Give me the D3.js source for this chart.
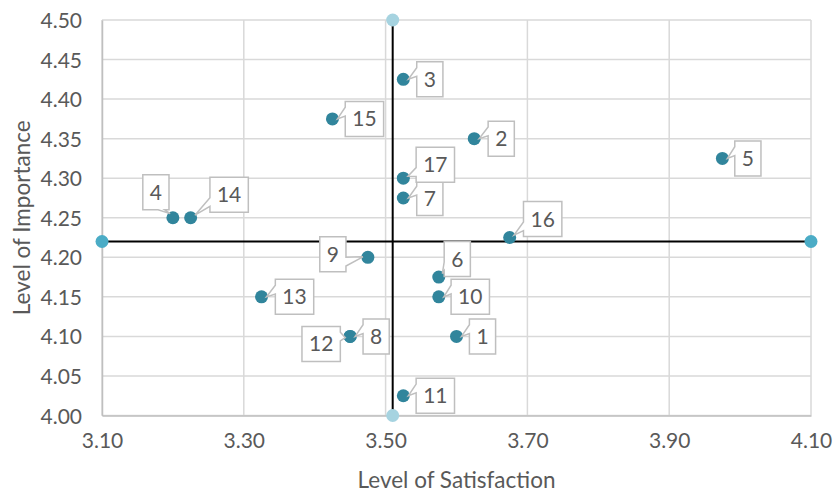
<!DOCTYPE html>
<html><head><meta charset="utf-8">
<script src="https://cdn.jsdelivr.net/npm/d3@7"></script>
<style>
html,body{margin:0;padding:0;background:#fff;}
svg text{font-family:Lato,"Open Sans",sans-serif;}
</style></head>
<body>
<svg id="chart" width="833" height="493"></svg>
<script>
// ---- data ----
const ids = ["1","2","3","4","5","6","7","8","9","10","11","12","13","14","15","16","17"];
const satisfaction = [3.60, 3.625, 3.525, 3.20, 3.975, 3.575, 3.525, 3.45, 3.475, 3.575, 3.525, 3.45, 3.325, 3.225, 3.425, 3.675, 3.525];
const importance   = [4.10, 4.35, 4.425, 4.25, 4.325, 4.175, 4.275, 4.10, 4.20, 4.15, 4.025, 4.10, 4.15, 4.25, 4.375, 4.225, 4.30];
const xTicks = [3.10, 3.30, 3.50, 3.70, 3.90, 4.10];
const yTicks = [4.00, 4.05, 4.10, 4.15, 4.20, 4.25, 4.30, 4.35, 4.40, 4.45, 4.50];
const refSatisfaction = 3.51;
const refImportance = 4.22;
const xTitle = "Level of Satisfaction";
const yTitle = "Level of Importance";

// ---- layout (label box centre offsets from point, px) ----
const labelOffsets = [[26,0],[27,0],[26.5,0],[-17,-25.5],[25.5,0],[18.5,-18],[26.5,0],[26,0],[-35,-3],[31.5,0],[32,0],[-29,7.5],[33,0],[38.5,-23],[32,0],[33,-18.5],[32,-13.5]];

const svg = d3.select("#chart");
const M = {l:102, r:811, t:20, b:415.5};
const x = d3.scaleLinear().domain([3.10, 4.10]).range([M.l, M.r]);
const y = d3.scaleLinear().domain([4.00, 4.50]).range([M.b, M.t]);

const grid = svg.append("g");
grid.selectAll("line.v").data(xTicks).join("line")
  .attr("x1", d=>x(d)).attr("x2", d=>x(d)).attr("y1", M.t).attr("y2", M.b)
  .attr("stroke", "#D9D9D9").attr("stroke-width", 1.5);
grid.selectAll("line.h").data(yTicks).join("line")
  .attr("x1", M.l).attr("x2", M.r).attr("y1", d=>y(d)).attr("y2", d=>y(d))
  .attr("stroke", "#D9D9D9").attr("stroke-width", 1.5);

// axes
const xAxis = d3.axisBottom(x).tickValues(xTicks).tickFormat(d3.format(".2f")).tickSize(0).tickPadding(18);
const yAxis = d3.axisLeft(y).tickValues(yTicks).tickFormat(d3.format(".2f")).tickSize(0).tickPadding(20);
const gx = svg.append("g").attr("transform", `translate(0,${M.b})`).call(xAxis);
const gy = svg.append("g").attr("transform", `translate(${M.l},0)`).call(yAxis);
[gx, gy].forEach(g => {
  g.select(".domain").attr("stroke", "#BFBFBF").attr("stroke-width", 1.5);
  g.selectAll("text").attr("fill", "#595959").style("font-size", "21px");
});
gy.selectAll("text").attr("dy", "0.36em");

// titles
svg.append("text").attr("x", (M.l+M.r)/2).attr("y", 488).attr("text-anchor","middle")
  .attr("fill","#595959").style("font-size","22.5px").text(xTitle);
svg.append("text").attr("transform", `translate(30,${(M.t+M.b)/2}) rotate(-90)`).attr("text-anchor","middle")
  .attr("fill","#595959").style("font-size","22.5px").text(yTitle);

// reference lines
svg.append("line").attr("x1", x(3.10)).attr("x2", x(4.10)).attr("y1", y(refImportance)).attr("y2", y(refImportance))
  .attr("stroke","#000").attr("stroke-width",2);
svg.append("line").attr("x1", x(refSatisfaction)).attr("x2", x(refSatisfaction)).attr("y1", y(4.00)).attr("y2", y(4.50))
  .attr("stroke","#000").attr("stroke-width",2);
svg.selectAll("circle.hend").data([3.10, 4.10]).join("circle")
  .attr("cx", d=>x(d)).attr("cy", y(refImportance)).attr("r", 6.5).attr("fill", "#4BACC6");
svg.selectAll("circle.vend").data([4.00, 4.50]).join("circle")
  .attr("cx", x(refSatisfaction)).attr("cy", d=>y(d)).attr("r", 6.5).attr("fill", "#A6D3E0");

// points
const pts = ids.map((id,i)=>({id, sx: satisfaction[i], im: importance[i], off: labelOffsets[i]}));
svg.append("g").selectAll("circle").data(pts).join("circle")
  .attr("cx", d=>x(d.sx)).attr("cy", d=>y(d.im)).attr("r", 6.5).attr("fill", "#31859C");

// callout labels
function callout(l, t, w, h, tx, ty) {
  const hc = l + w/2, vc = t + h/2, r = l + w, b = t + h;
  const dxPos = tx - hc, dyPos = ty - vc;
  const dq = dxPos * h / w;
  const dz = Math.abs(dyPos) - Math.abs(dq);
  const x1 = w * (dxPos > 0 ? 7 : 2) / 12, x2 = w * (dxPos > 0 ? 10 : 5) / 12;
  const y1 = h * (dyPos > 0 ? 7 : 2) / 12, y2 = h * (dyPos > 0 ? 10 : 5) / 12;
  let side;
  if (dz > 0) side = dyPos < 0 ? "top" : "bottom";
  else side = dxPos < 0 ? "left" : "right";
  let p = `M${l},${t}`;
  if (side === "top") p += `L${l+x1},${t}L${tx},${ty}L${l+x2},${t}`;
  p += `L${r},${t}`;
  if (side === "right") p += `L${r},${t+y1}L${tx},${ty}L${r},${t+y2}`;
  p += `L${r},${b}`;
  if (side === "bottom") p += `L${l+x2},${b}L${tx},${ty}L${l+x1},${b}`;
  p += `L${l},${b}`;
  if (side === "left") p += `L${l},${t+y2}L${tx},${ty}L${l},${t+y1}`;
  return p + "Z";
}
const lg = svg.append("g");
pts.forEach(d => {
  const px = x(d.sx), py = y(d.im);
  const cx = px + d.off[0], cy = py + d.off[1];
  const g = lg.append("g");
  const path = g.append("path");
  const txt = g.append("text").attr("x", cx).attr("y", cy).attr("dy","0.36em").attr("text-anchor","middle")
    .attr("fill","#595959").style("font-size","21px").text(d.id);
  const tw = txt.node().getComputedTextLength();
  const w = tw + 14, h = 35;
  const dist = Math.hypot(d.off[0], d.off[1]);
  const tx = px + d.off[0]/dist*5, ty = py + d.off[1]/dist*5;
  path.attr("d", callout(cx - w/2, cy - h/2, w, h, tx, ty))
    .attr("fill","#fff").attr("stroke","#BFBFBF").attr("stroke-width",1.5).attr("stroke-linejoin","miter");
});
</script>
</body></html>
